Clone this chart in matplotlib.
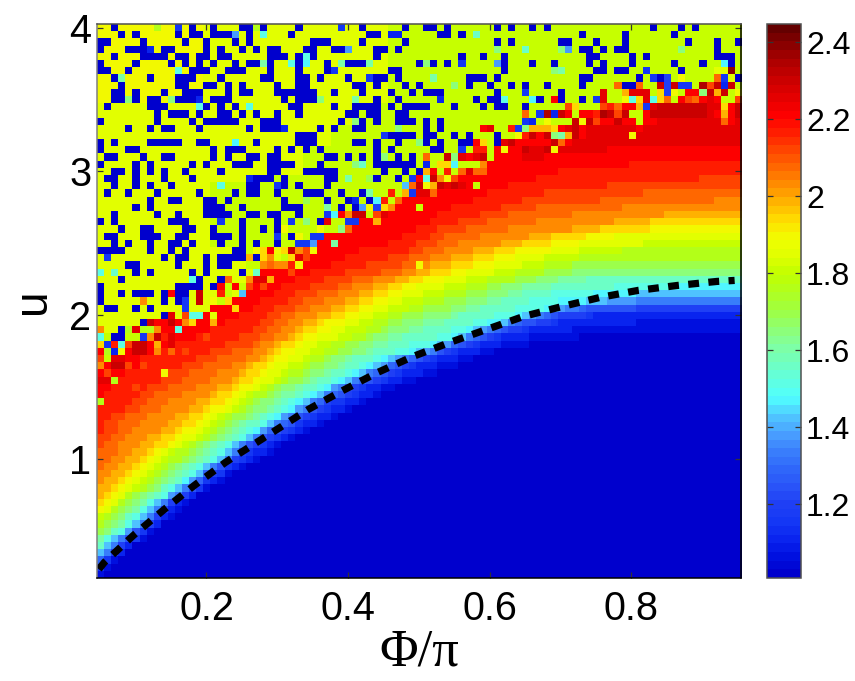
import numpy as np
import matplotlib
matplotlib.use("Agg")
import matplotlib.pyplot as plt
from matplotlib.colors import LinearSegmentedColormap

plt.rcParams['font.family'] = ['Liberation Sans', 'DejaVu Sans']

# One letter per colour level of the scale, low to high.
LEVEL_LETTERS = "ABCDEFGHIJabcdefghijklmnopqrstuv"
LEVEL_COLOURS = ["#0000cd", "#0010e0", "#0a25f0", "#1538f5", "#2040f5", "#2a55f8", "#3068fa", "#3a80fc",
                 "#4aa0ff", "#50c8ff", "#50ffff", "#60ffe0", "#70ffc0", "#80ffa0", "#90ff70", "#a0ff40",
                 "#b0ff20", "#c0ff00", "#dfff00", "#f0ff00", "#ffe000", "#ffb800", "#ff9000", "#ff6c00",
                 "#ff4800", "#ff2000", "#ff0000", "#e60000", "#cc0000", "#b00000", "#8c0000", "#640000"]
VALUE_MIN = 1.008
VALUE_MAX = 2.447

PHI_CENTRES = [round(0.05 + 0.01 * i, 2) for i in range(91)]
U_CENTRES = [round(4.0 - 0.05 * i, 2) for i in range(77)]

# Cell levels read row by row from the top (u = 4). Left of "|": letter + last column of the run
# (a bare letter is one cell). Right of "|": single cells that differ, letter + columns.
ROWS = [
"j14 i40 h90 | A2,13,16,20,21,23,28,37,43,46,47,49,56,58,61,63,78,82,84 D11,34 g8,22",
"j14 i40 h90 | A3,5,11,13,14,16,17,18,21,27,38,39,48,49,51,68,74,81 I19 b23 C41,42 c53",
"j14 i40 h90 | A0,1,6,12,15,19,21,30-32,37,43,56,58,65,66,70,74,83,87,90",
"j14 i40 h90 | A0,4,5,6,9,10,15,17,20,22,24,25,29,30,33,34,39,40,42,68,69,71,73,74,87 C7 I35,66 e56,65,82 c60",
"j14 i40 h90 | A2,6,7,8,9,11,12,14,15,17,18,24,25,26,28,30,39,51,54,57,69,70,75,77,87-89 b29",
"j14 i40 h90 | A0,5,10,12,14,16,19,21,22,24,28,32,35-37,45,47,49,57,61,64,69,71,75,81,85,89 d23,34,38 b27 a29,88 e46 D51 I56",
"j14 i40 h90 | A0,1,4,13,14,15,18,19,20,24,28,32,41,42,57,70,71,73,74,82 b11 D33,77 e64 d65 i87,88 u89",
"j14 i40 h90 | A2,7,11,12,13,17,23,24,28,29,31,35,39,40,42,52-54,56,68,69,76,79,90 d3,47 D38,78,88 E80 j82 n87 i89",
"j14 i40 h90 | A3,11,12,15,16,18,20,25,28,29,36,37,39,43,45,52,55,58,60,63,68,74,75 e50 n73,76 s79,81,87,89 E80 D82,83 t85 o86 C88",
"j14 i40 h90 | A2,3,5,9,12,13,14,18,20,21,25-30,33,37,41,44,46-48,56,65 D60 r71,75-77 l74,87 k79 E80 j81,90 q83,84 e85 s86,88",
"j14 i40 h90 | A2,3,5,7,8,11-13,16-18,26,28-30,39,42,53,55,56,62,65,68 e4,10,31 C14,48 d36 b57,75,78 a61 q64,82,85,87 D70 r71,77,86 j74 k76,79 n80,84 o83,90",
"i36 h90 | A1,7,8,9,15,17,19,27,28,33,36-39,41,43-46,50,54,56,57,60 b14,21 o66,71 k67,88 p72 n73 q74,75,89 l76 D77 r78,86,87 s79-85,90",
"i36 h90 | A8,10,11,12,14,17,18,20,22,25,28,35,36,38,39,42,43 n60 D62 t63 C64 s65,72,74,78-85,90 q66,68,69,77,87,89 p70 t71 o73 r86 l88",
"i36 h90 | A0,8,13,15-19,23-25,34,37,39,42-44,46,48 e36 D60 C61 j63,68 s67,69,73 o70 q71,72,74,75,77,78,89 r79-87,90 n88",
"i32 h59 r75 q76 r90 | A4,7,9,10,14,21,23-25,31,33,36,37,46,48 C26 e42,60 q54,65,68 r55 p58 D59 l61-63 k64 s67",
"i32 h59 r90 | A28,29,30,41-44,46,47,50,52,56 D40 j59,75 p60 s61,63 q62,68 e64 d65 l66 s67",
"i32 h56 q66 r90 | A0,2,7-11,14,15,22,28-30,36,37,39,42,46,48,51,52,56 a19 e45 q53 k54 r57 s58,64 n65",
"i28 h55 q59 r71 q90 | A0,4,5,16,18-20,25,27,29,31,39,41,47,48 D51 p53,54 q56 j57,64 s60,63",
"i28 h55 q59 r62 q90 | A1,2,6,9,10,16,18,21,22,24,25,32,33,35,37,39,42,44 e40,50 n46 s49,54 r51,53 q52 h55",
"i28 h54 q74 p90 | A0,5,7,13,15,19-21,24-27,31,39-44 e36 c37 C46 k48,49 a50 m54",
"i28 h54 q64 p90 | A2,3,5,7,9,12,17,24,25,29-33,40,43,45 l46 q47 p49 n51,53,54 r52",
"i24 h50 q61 p84 o90 | A1,2,5,9,13,22,23,24,26,32,33,39,42 C21 d35 f38 D44 q45 b46 s47 m48 j49 o50",
"i15 h42 q57 p71 o90 | A2,5,7,10,21,22,26,28,32 b17 D25 J43 n44 s45,48,50 j46 l47 r49,51 h53",
"i15 h44 q54 p62 o76 n90 | A1,4,8,14,19,21,22,25,29-31,34,37 d38 p41 l43 D44 n47 r45,46",
"i15 h42 q52 p59 o70 n86 m90 | A7,10,11,15,16,18,26,32,35,38 f29 C36 a39 p40 n42",
"i15 h41 q49 p56 o61 n73 m90 | A5,7,15,16,17,20,26,27,28,34,36 d32 I37 j38 E39 k40 m41 h45",
"i15 h40 q47 p53 o57 n66 m79 l90 | A2,8,11,15-18,21,22,24,25,28 D32 a33 q34 m35 s36,37 h38 o39 r40",
"i15 h36 q46 p50 o54 n61 m72 l77 k90 | A0,2,10,11,12,20,25,31 D17,27,35,36 e29 r32 l39",
"i15 h34 q44 p47 o51 n57 m66 l70 k77 j90 | A3,6,7,12,13,16,20,23,25 j26,31 e34 n35",
"i15 h31 q42 p46 o48 n53 m60 l63 k68 j72 i90 | A1,2,6,7,8,11,12,16,17,18,20,27 D25,30,31 j28",
"i15 h30 q40 p44 o47 n50 m56 l59 k63 j67 i76 h90 | A2,4,7,10,11,13,17,20,22,25 D28,29 I30 d33",
"i20 h30 q36 p43 o45 n48 m52 l55 k58 j63 i67 h73 g90 | A0-3,7,10,12,19,20 j22,25,30 k23,26 q24 s27 m28 o29",
"i20 h27 q34 p40 o43 n46 m49 l52 k55 j58 i62 h67 g90 | D1 A9,11,12,15,17-20,22 l21 k23,27 m24 i25 h26 r28 o29",
"i20 h22 q32 p37 o42 n44 m46 l49 k52 j55 i59 h62 g66 f90 | A4,5,11,15,17,18 m23,25,26 n24 p27 j28,45",
"i22 q29 p34 o39 n42 m44 l46 k49 j51 i55 h58 g62 f66 e90 | b0 c2,22 A5,7,13,15,20 o27",
"i21 q27 p31 o35 n38 m41 l43 k45 j48 i51 h54 g58 f61 e64 d68 c90 | A3,14,17 b13 n18 m21 r22,23 l24",
"i16 h20 q25 p29 o33 n35 m38 l40 k42 j44 i48 h51 g54 f56 e59 d63 c72 b80 a90 | A0,11-14,16 q17,19 h18,20 o21,23",
"i19 q24 p27 o30 n33 m36 l38 k40 j42 i45 h48 g51 f54 e57 d59 c63 b69 a75 J90 | A0,3,5-7,9,11,12 q10 s14 p17 h18 i19 J20",
"i15 h18 q22 p26 o28 n31 m34 l36 k38 j40 i42 h45 g48 f51 e54 d56 c60 b64 a68 J71 I75 H90 | A0,9,11 m6 D12 s14 j16 h17 k18",
"i15 q21 p24 o27 n29 m32 l34 k36 j38 i40 h43 g45 f49 e51 d53 c58 b62 a63 J64 I65 H67 G68 F75 E90 | A1,2,5,7 D12 k19",
"i14 q19 p23 o25 n27 m30 l32 k34 j36 i38 h40 g42 f45 e49 d50 c55 b58 a59 J60 I61 H62 G63 F64 E68 D69 C90 | A9 r10 o12 b13,14 i16",
"i5 q17 p22 o24 n26 m28 l30 k31 j34 i36 h38 g40 f42 e45 d48 c52 b54 a56 J57 H58 G59 F61 E63 D64 C75 B90 | A6 s7,10 m12 k13 l16",
"i7 q15 p21 o23 n25 m27 l28 k30 j32 i34 h37 g39 f40 e43 d45 c49 b51 a52 J53 I54 H55 G56 F57 E59 D60 C66 B90 | m0,8 A3 g4,6,7 r5 b11",
"q13 p19 o22 n24 m26 l27 k28 j30 i33 h35 g37 f38 e40 d42 c47 b49 a50 J51 H52 G53 F54 E55 D56 C60 B67 A90 | b0 h1,4,5 A2,3 D6 m7 s8 p9 r10 o15",
"q10 p17 o21 n22 m24 l25 k27 j28 i30 h32 g34 f36 e38 d40 c43 b46 a47 J48 I49 G50 F51 E52 D53 C56 B60 A90 | k0 D1 p2 b3 o4 s5,6 l8 r10",
"q8 p15 o18 n21 m23 l24 k25 j27 i29 h31 g33 f35 e37 d38 c41 b43 a44 J45 I46 H47 F48 E49 D50 C53 B55 A90 | g1 C2 j3 s5,6 m8 n10 o12",
"q6 p13 o16 n20 m22 l23 k24 j26 i28 h29 g31 f32 e34 d35 c38 b39 a40 J41 I42 H43 G44 F45 E46 D47 C50 B52 A90 | o0 h1 r2,3 p6",
"q5 p11 o14 n18 m20 l21 k23 j24 i26 h28 g29 f31 e33 d34 c36 b37 a38 J39 I40 G41 F42 E43 D44 C47 B50 A90 | m0 s2,3 o4,6",
"q3 p9 o12 n16 m19 l20 k22 j23 i25 h26 g28 f29 e31 d32 c34 b35 a36 J37 H38 G39 F40 E41 D42 C45 B47 A90 | o1 j9",
"q2 p8 o11 n15 m18 l19 k21 j22 i24 h25 g26 f28 e29 d30 c32 b33 a34 J35 H36 G37 F38 E39 D40 C42 B44 A90 | r0,1 g2",
"q1 p6 o9 n13 m16 l18 k19 j21 i22 h23 g24 f25 e27 d28 c30 b31 a32 I33 H34 F35 E36 D37 C39 B41 A90 | o5",
"q0 p5 o7 n11 m15 l16 k18 j19 i20 h21 g23 f24 e25 d27 c28 b29 a30 J31 H32 G33 F34 E35 D36 C38 B39 A90 |",
"p4 o6 n9 m13 l15 k17 j18 i19 h20 g21 f22 e24 d25 c26 b27 a28 J29 H30 G31 E32 D34 C36 B37 A90 | g0",
"p3 o5 n8 m12 l14 k15 j17 i18 h19 g20 f21 e23 d24 c25 b26 a27 I28 H29 F30 E31 D32 C34 B35 A90 |",
"p1 o3 n6 m10 l12 k14 j15 i16 h17 g18 f20 e21 d22 c23 b24 a25 I26 H27 F28 E29 D30 C32 B33 A90 |",
"p o2 n5 m9 l11 k13 j14 i15 h16 g17 f18 e19 d20 c22 b23 J24 H25 G26 F27 D28 C30 B31 A90 |",
"p o2 n4 m8 l10 k11 j13 i14 h15 g16 f17 e18 d19 c20 b21 a22 I23 G24 F25 E26 D27 C28 B29 A90 |",
"o1 n3 m6 l8 k10 j11 i13 h14 g15 f16 e17 d18 c19 b20 J21 H22 F23 E24 D25 C26 B27 A90 |",
"o n2 m5 l7 k9 j10 i11 h12 g13 f14 e15 d16 c17 b18 J19 H20 F21 E22 D23 C24 B25 A90 |",
"n2 m4 l6 k7 j8 i9 h10 g12 f13 e14 d15 c16 b17 J18 H19 E20 D21 C23 B24 A90 |",
"n1 m3 l5 k6 j7 i8 h9 g11 f12 e13 d14 c15 b16 J17 H18 E19 D20 C21 B22 A90 |",
"n m2 l4 k5 j6 i7 h8 g9 f10 e11 d12 c13 b14 J15 H16 F17 D18 C19 B20 A90 |",
"m1 l3 k4 j5 i6 h7 g8 f9 e10 d11 c12 b13 J14 G15 E16 D17 B18 A90 |",
"m l2 k3 j4 i5 h6 g7 f8 e9 d10 c11 a12 I13 G14 D15 C16 B17 A90 |",
"l1 k2 j3 i4 h5 g6 f7 e8 c9 b10 J11 H12 F13 D14 B15 A90 |",
"l k1 j2 i3 g4 f5 e6 d7 c8 b9 I10 H11 E12 C13 A90 |",
"k j1 i2 g3 f4 e5 d6 b7 J8 H9 E10 C11 B12 A90 |",
"j i1 g2 f3 e4 d5 b6 J7 H8 E9 C10 B11 A90 |",
"h g1 f2 e3 c4 b5 J6 H7 E8 C9 B10 A90 |",
"g f1 e2 d3 b4 J5 H6 E7 C8 A90 |",
"f e1 c2 b3 I4 F5 D6 B7 A90 |",
"d b1 J2 H3 F4 D5 B6 A90 |",
"c J1 H2 E3 C4 A90 |",
"J H1 E2 C3 A90 |",
"G D1 B2 A90 |",
"D B1 A90 |",
"B A90 |",
]

# Dashed critical line.
LINE_PHI = [0.048, 0.056, 0.097, 0.139, 0.183, 0.227, 0.344, 0.393, 0.442, 0.492, 0.544, 0.648, 0.703, 0.756, 0.81, 0.865, 0.921, 0.946]
LINE_U = [0.236, 0.285, 0.472, 0.646, 0.819, 0.979, 1.347, 1.479, 1.604, 1.715, 1.8125, 1.993, 2.0625, 2.125, 2.174, 2.208, 2.236, 2.243]

X_TICKS = [0.2, 0.4, 0.6, 0.8]
X_TICK_LABELS = ["0.2", "0.4", "0.6", "0.8"]
Y_TICKS = [1, 2, 3, 4]
Y_TICK_LABELS = ["1", "2", "3", "4"]
CB_TICKS = [1.2, 1.4, 1.6, 1.8, 2.0, 2.2, 2.4]
CB_TICK_LABELS = ["1.2", "1.4", "1.6", "1.8", "2", "2.2", "2.4"]
X_LABEL = "\u03a6/\u03c0"
Y_LABEL = "u"


def parse_row(text, n_cols):
    runs, _, cells = text.partition("|")
    row = []
    for tok in runs.split():
        letter, end = tok[0], tok[1:]
        count = int(end) + 1 - len(row) if end else 1
        row.extend([letter] * max(count, 0))
    row = (row + [row[-1]] * n_cols)[:n_cols]
    for tok in cells.split():
        letter = tok[0]
        for part in tok[1:].split(","):
            a, _, b = part.partition("-")
            for c in range(int(a), int(b or a) + 1):
                if c < n_cols:
                    row[c] = letter
    return [LEVEL_LETTERS.index(ch) for ch in row]


levels = np.array([parse_row(t, len(PHI_CENTRES)) for t in ROWS], dtype=float)
values = VALUE_MIN + levels * (VALUE_MAX - VALUE_MIN) / (len(LEVEL_LETTERS) - 1)

W, H = 855, 681
fig = plt.figure(figsize=(W / 100, H / 100), dpi=100)
L, R, T, B = 96.7, 741.0, 24.0, 578.0
ax = fig.add_axes([L / W, 1 - B / H, (R - L) / W, (B - T) / H])
CL, CR = 767.0, 800.5
cax = fig.add_axes([CL / W, 1 - B / H, (CR - CL) / W, (B - T) / H])

cmap = LinearSegmentedColormap.from_list("scale", LEVEL_COLOURS, N=64)
phi = np.array(PHI_CENTRES)
u = np.array(U_CENTRES)
mesh = ax.imshow(values, cmap=cmap, vmin=VALUE_MIN, vmax=VALUE_MAX, aspect="auto", interpolation="nearest",
                 extent=[phi[0] - 0.005, phi[-1] + 0.005, u[-1] - 0.025, u[0] + 0.025])
ax.plot(LINE_PHI, LINE_U, color="black", lw=5.2, dashes=(1.5, 1.3), dash_capstyle="butt", solid_capstyle="butt")
ax.set_xlim(phi[0] - 0.005, phi[-1] + 0.005)
ax.set_ylim(u[-1] - 0.025, u[0] + 0.025)

ax.set_xticks(X_TICKS, X_TICK_LABELS)
ax.set_yticks(Y_TICKS, Y_TICK_LABELS)
ax.tick_params(axis="x", direction="in", top=True, bottom=True, length=4.5, width=0.9, color="#333333",
               labelsize=28.5, pad=9)
ax.tick_params(axis="y", direction="in", left=True, right=True, length=4.5, width=0.9, color="#333333",
               labelsize=28.5, pad=4)
ax.set_xlabel(X_LABEL, fontsize=38, family=["Liberation Serif", "DejaVu Serif"], labelpad=0)
ax.set_ylabel(Y_LABEL, fontsize=33, labelpad=10)
for name, col in (("left", "#808080"), ("top", "#505050"), ("right", "black"), ("bottom", "black")):
    ax.spines[name].set_color(col)
    ax.spines[name].set_linewidth(1.1)

cb = fig.colorbar(mesh, cax=cax)
cb.set_ticks(CB_TICKS, labels=CB_TICK_LABELS)
cax.tick_params(axis="y", direction="in", left=True, right=True, length=4.5, width=0.9, color="#333333",
                labelsize=23, pad=4)
cb.outline.set_edgecolor("#505050")
cb.outline.set_linewidth(1.1)

fig.savefig("out.png", dpi=100)
